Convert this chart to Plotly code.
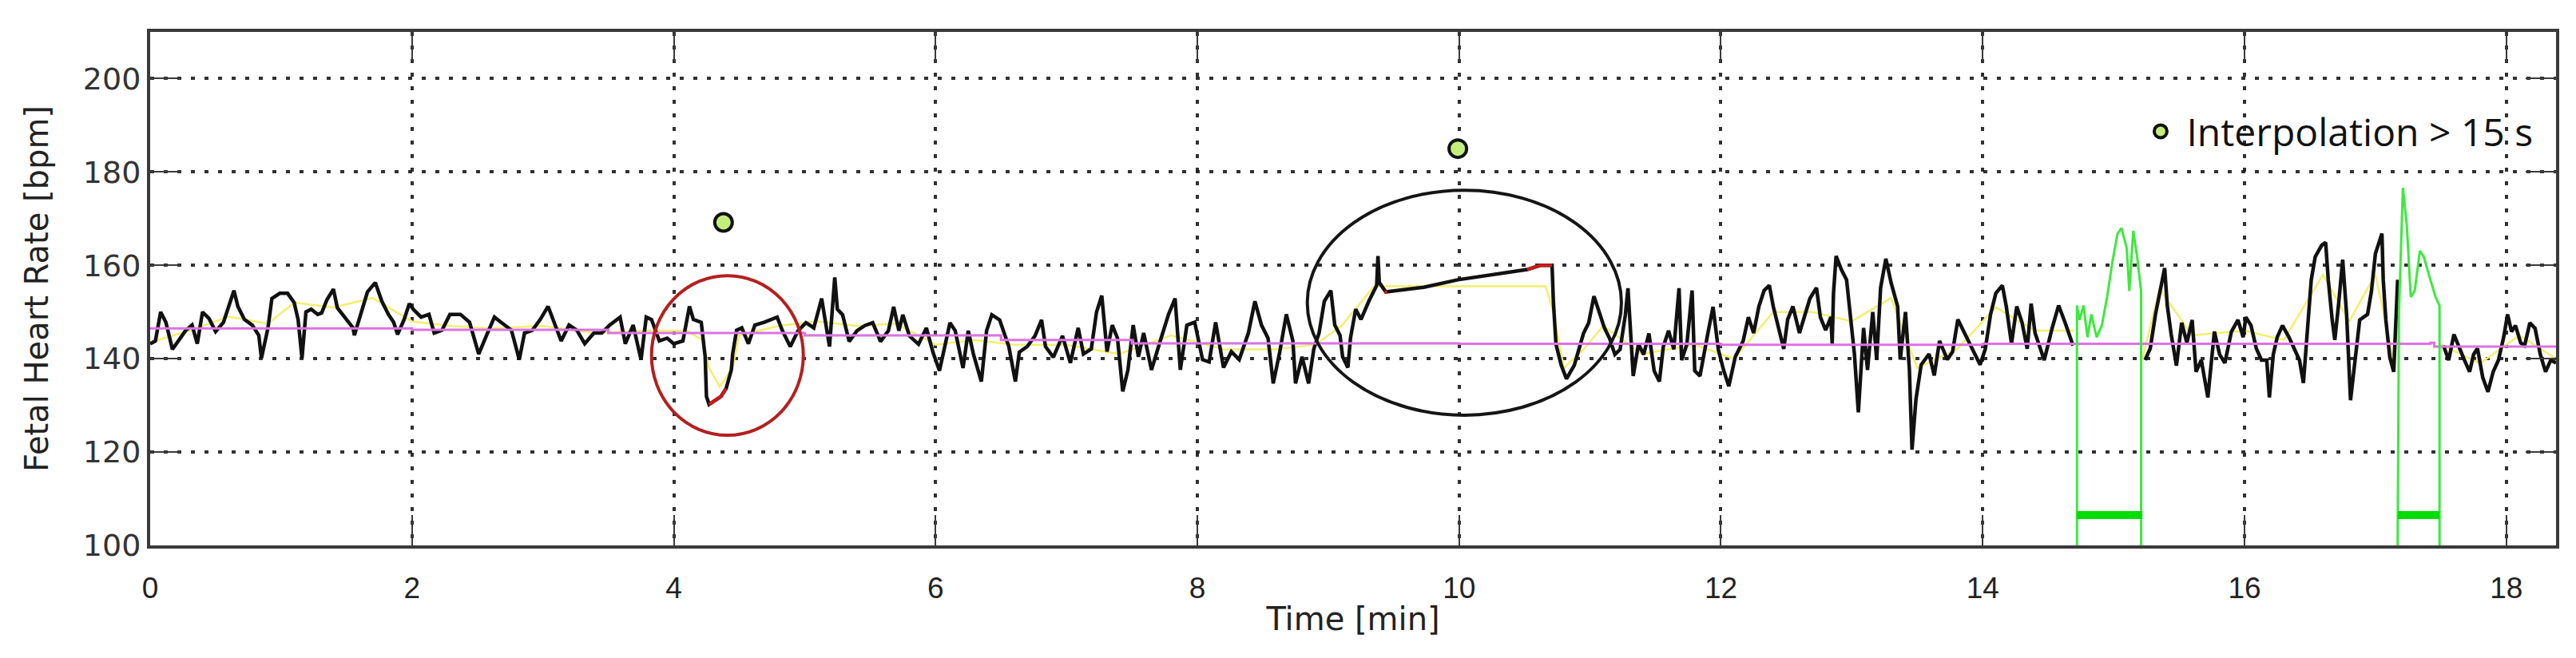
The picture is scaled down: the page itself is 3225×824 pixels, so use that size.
"""Fetal heart rate trace with interpolation markers (Plotly)."""

import plotly.graph_objects as go

# --- data ------------------------------------------------------------------

FHR_TIME = [
    0.00, 0.04, 0.08, 0.12, 0.17, 0.20, 0.27, 0.32, 0.36, 0.40, 0.45, 0.50, 0.56, 0.60, 0.64, 0.67,
    0.72, 0.78, 0.83, 0.85, 0.90, 0.93, 0.99, 1.05, 1.10, 1.13, 1.16, 1.19, 1.23, 1.28, 1.31, 1.35,
    1.40, 1.43, 1.50, 1.55, 1.56, 1.60, 1.66, 1.72, 1.77, 1.82, 1.86, 1.89, 1.94, 1.98, 2.01, 2.07,
    2.13, 2.17, 2.23, 2.29, 2.37, 2.44, 2.51, 2.57, 2.63, 2.68, 2.76, 2.82, 2.86, 2.92, 2.98, 3.04,
    3.10, 3.14, 3.20, 3.26, 3.32, 3.39, 3.45, 3.51, 3.59, 3.63, 3.69, 3.75, 3.79, 3.83, 3.89, 3.95,
    4.00, 4.07, 4.12, 4.15, 4.21, 4.24, 4.25, 4.27, 4.36, 4.40, 4.44, 4.45, 4.48, 4.52, 4.57, 4.62,
    4.69, 4.73, 4.79, 4.83, 4.89, 4.95, 5.01, 5.07, 5.13, 5.16, 5.19, 5.23, 5.25, 5.29, 5.34, 5.40,
    5.46, 5.52, 5.58, 5.64, 5.68, 5.72, 5.75, 5.80, 5.87, 5.93, 5.98, 6.03, 6.07, 6.11, 6.15, 6.21,
    6.25, 6.29, 6.35, 6.39, 6.43, 6.49, 6.56, 6.61, 6.64, 6.70, 6.76, 6.81, 6.84, 6.90, 6.97, 7.03,
    7.09, 7.13, 7.19, 7.23, 7.27, 7.31, 7.35, 7.39, 7.43, 7.47, 7.51, 7.55, 7.59, 7.65, 7.71, 7.78,
    7.83, 7.87, 7.92, 7.98, 8.04, 8.09, 8.14, 8.20, 8.26, 8.32, 8.39, 8.44, 8.49, 8.54, 8.58, 8.63,
    8.68, 8.73, 8.75, 8.80, 8.85, 8.89, 8.93, 8.97, 9.02, 9.05, 9.09, 9.11, 9.15, 9.17, 9.21, 9.25,
    9.31, 9.37, 9.38, 9.39, 9.44, 9.52, 9.73, 9.99, 10.30, 10.52, 10.62, 10.71, 10.72, 10.74, 10.78,
    10.82, 10.88, 10.95, 10.99, 11.03, 11.07, 11.11, 11.15, 11.19, 11.23, 11.27, 11.29, 11.31, 11.33,
    11.37, 11.41, 11.45, 11.49, 11.53, 11.56, 11.60, 11.64, 11.68, 11.70, 11.74, 11.78, 11.80, 11.84,
    11.90, 11.94, 11.98, 12.02, 12.06, 12.11, 12.17, 12.21, 12.25, 12.29, 12.33, 12.37, 12.40, 12.45,
    12.48, 12.51, 12.55, 12.60, 12.64, 12.68, 12.73, 12.76, 12.80, 12.84, 12.85, 12.86, 12.88, 12.92,
    12.96, 12.99, 13.02, 13.05, 13.09, 13.12, 13.16, 13.19, 13.22, 13.26, 13.30, 13.35, 13.37, 13.41,
    13.44, 13.46, 13.49, 13.53, 13.59, 13.63, 13.67, 13.73, 13.77, 13.81, 13.86, 13.92, 13.98, 14.02,
    14.06, 14.10, 14.15, 14.18, 14.22, 14.26, 14.30, 14.34, 14.37, 14.40, 14.44, 14.47, 14.53, 14.58,
    14.63, 14.69, 14.72, 15.24, 15.28, 15.32, 15.36, 15.39, 15.41, 15.44, 15.48, 15.52, 15.56, 15.60,
    15.63, 15.67, 15.72, 15.77, 15.81, 15.85, 15.90, 15.95, 15.99, 16.01, 16.05, 16.09, 16.13, 16.17,
    16.19, 16.22, 16.25, 16.29, 16.34, 16.38, 16.42, 16.45, 16.48, 16.51, 16.54, 16.59, 16.62, 16.64,
    16.67, 16.69, 16.72, 16.75, 16.78, 16.81, 16.84, 16.88, 16.94, 16.97, 17.00, 17.03, 17.05, 17.06,
    17.08, 17.11, 17.14, 17.17, 17.20, 17.52, 17.56, 17.60, 17.64, 17.68, 17.72, 17.75, 17.78, 17.82,
    17.86, 17.90, 17.94, 17.98, 18.01, 18.04, 18.07, 18.11, 18.14, 18.18, 18.22, 18.26, 18.30, 18.34,
    18.38,
]
FHR_BPM = [
    143.2, 143.8, 150.0, 147.8, 142.0, 143.2, 146.0, 147.2, 143.2, 150.0, 148.6, 145.8, 147.8, 151.2, 154.6, 151.2,
    148.4, 147.2, 145.0, 140.1, 146.6, 152.9, 154.0, 154.0, 152.0, 148.4, 140.1, 150.0, 150.6, 149.5, 149.8, 152.6,
    154.9, 150.9, 148.4, 146.6, 145.0, 148.9, 154.3, 156.3, 152.3, 149.5, 147.8, 145.2, 148.4, 151.8, 150.6, 148.9,
    149.5, 145.5, 146.1, 149.5, 149.5, 147.8, 141.0, 145.0, 148.9, 147.8, 146.1, 139.8, 145.5, 146.1, 148.4, 151.2,
    146.6, 143.8, 147.2, 146.1, 143.2, 145.5, 145.5, 147.2, 148.9, 143.2, 147.2, 139.8, 148.9, 148.4, 143.8, 144.4,
    143.2, 143.8, 151.2, 148.4, 147.8, 140.4, 131.9, 130.2, 131.9, 133.6, 137.6, 141.0, 146.1, 146.6, 143.2, 147.2,
    147.8, 148.3, 148.9, 146.0, 142.6, 146.0, 147.7, 146.6, 152.9, 147.7, 142.6, 157.4, 150.6, 149.4, 143.7, 146.0,
    147.1, 147.7, 143.7, 146.0, 151.1, 146.0, 149.4, 144.9, 143.1, 146.6, 141.4, 137.4, 142.6, 147.7, 146.0, 138.0,
    146.0, 140.9, 135.1, 146.0, 149.4, 148.3, 142.6, 135.1, 141.4, 142.6, 144.9, 148.3, 142.6, 140.3, 144.9, 139.1,
    146.6, 141.0, 142.1, 150.0, 153.5, 141.5, 147.2, 144.4, 133.0, 137.6, 147.2, 140.4, 145.5, 137.6, 143.2, 149.5,
    152.9, 137.6, 147.2, 147.8, 139.8, 139.3, 147.8, 138.1, 141.5, 139.8, 145.5, 152.3, 147.2, 144.4, 134.7, 141.5,
    149.5, 143.8, 134.7, 140.4, 134.7, 142.1, 145.5, 152.3, 154.6, 147.2, 145.0, 140.4, 138.1, 144.4, 150.6, 148.4,
    152.3, 155.7, 162.0, 156.3, 154.3, 154.6, 155.3, 156.9, 158.3, 159.1, 160.0, 160.0, 152.3, 143.1, 138.6,
    135.7, 138.6, 145.4, 147.7, 153.4, 150.0, 146.6, 144.3, 140.9, 142.0, 149.4, 155.1, 146.6, 136.3,
    143.1, 140.9, 145.4, 137.4, 135.1, 142.6, 146.0, 142.0, 155.1, 139.7, 143.1, 154.6, 137.4, 136.3,
    145.4, 151.1, 142.0, 137.6, 134.1, 140.4, 143.8, 148.9, 145.5, 151.2, 154.6, 155.7, 151.2, 145.5,
    142.1, 148.4, 151.2, 145.5, 148.9, 152.9, 155.2, 148.9, 146.1, 148.9, 143.2, 154.0, 162.0, 159.1,
    156.9, 148.4, 141.0, 128.5, 146.6, 137.6, 150.0, 139.8, 155.2, 161.4, 156.3, 151.2, 139.8, 150.0,
    137.6, 120.5, 131.3, 138.7, 141.0, 136.4, 143.8, 139.8, 141.5, 148.4, 145.5, 142.1, 138.7, 142.1,
    149.5, 154.0, 155.7, 151.2, 143.2, 151.2, 147.8, 142.1, 151.8, 145.5, 142.1, 139.7, 146.5, 151.4,
    147.7, 142.8, None, 139.7, 142.2, 149.5, 155.7, 159.4, 151.4, 145.2, 138.5, 147.7, 143.4, 148.3,
    137.2, 139.7, 131.7, 145.8, 140.9, 139.1, 145.8, 148.3, 144.6, 148.9, 147.1, 142.2, 139.7, 139.7,
    131.7, 140.9, 144.6, 147.1, 144.6, 142.2, 139.7, 134.8, 147.1, 156.9, 161.8, 164.3, 164.9, 156.9,
    148.3, 144.0, 152.0, 161.2, 149.5, 131.1, 138.5, 148.3, 149.5, 154.5, 162.5, 165.5, 166.8, 156.9,
    148.3, 140.3, 137.2, 156.9, None, 142.8, 139.7, 145.2, 142.2, 139.7, 137.2, 140.9, 142.2, 136.0,
    132.9, 137.2, 139.7, 144.6, 149.5, 145.8, 147.1, 143.4, 142.8, 147.7, 146.5, 140.9, 137.2, 139.7,
    139.1,
]

# smoothed trace (yellow), mostly hidden under the raw trace
SMOOTH_TIME = [
    0.0, 0.3, 0.6, 0.9, 1.1, 1.4, 1.7, 2.0, 2.3, 2.6, 3.0, 3.4, 3.8, 4.1, 4.22, 4.27, 4.35, 4.45, 4.5,
    4.8, 5.1, 5.4, 5.7, 6.0, 6.3, 6.6, 7.0, 7.4, 7.8, 8.2, 8.6, 8.9, 9.1, 9.35, 10.66, 10.72, 10.8,
    10.95, 11.1, 11.4, 11.8, 12.1, 12.4, 12.7, 13.0, 13.3, 13.5, 13.8, 14.1, 14.4, 14.7, 14.72,
    15.22, 15.35, 15.6, 16.0, 16.3, 16.6, 16.8, 17.0, 17.1, 17.14, 17.17, 17.2, 17.5, 17.8, 18.1, 18.38,
]
SMOOTH_BPM = [
    143.5, 146.0, 149.0, 147.5, 152.0, 151.0, 153.0, 148.0, 147.0, 146.5, 147.0, 145.5, 146.0, 146.0, 144.0, 138.0, 134.0, 138.0, 145.0,
    147.0, 148.0, 147.0, 147.5, 143.0, 144.0, 143.0, 143.0, 141.0, 145.0, 142.0, 142.0, 143.0, 147.0, 155.5, 155.5, 150.0, 138.0,
    142.0, 147.0, 141.0, 143.0, 140.0, 150.0, 150.0, 148.0, 153.0, 138.0, 142.0, 151.0, 146.0, 146.0, None,
    140.0, 155.0, 145.0, 146.0, 144.0, 158.0, 148.0, 158.0, 145.0, 139.0, 157.0, None, 143.0, 139.0, 145.0, 140.0,
]

# floating baseline (magenta)
BASELINE_TIME = [0.0, 2.0, 3.5, 5.0, 6.5, 7.5, 10.0, 12.0, 14.0, 16.0, 17.42, 17.45, 18.38]
BASELINE_BPM = [146.5, 146.2, 145.5, 145.0, 144.0, 143.3, 143.2, 143.0, 143.2, 143.2, 143.4, 142.6, 142.6]

# interpolated stretches drawn in red
INTERP_TIME = [4.27, 4.36, 4.40, None, 9.43, 9.45, None, 10.52, 10.62, 10.71]
INTERP_BPM = [130.2, 131.9, 133.6, None, 154.3, 154.3, None, 159.1, 160.0, 160.0]

# green segments (signal from the second channel) and their duration bars
GREEN_TIME = [
    14.72, 14.72, 14.74, 14.77, 14.80, 14.83, 14.87, 14.91, 14.95, 14.99, 15.03, 15.06, 15.10, 15.12,
    15.15, 15.18, 15.21, 15.21, None,
    17.17, 17.18, 17.21, 17.24, 17.27, 17.30, 17.34, 17.37, 17.42, 17.46, 17.49, 17.49,
]
GREEN_BPM = [
    100.0, 151.4, 148.3, 151.4, 144.6, 149.5, 144.6, 147.1, 153.2, 160.6, 166.8, 168.0, 163.7, 154.5,
    167.4, 161.8, 154.5, 100.0, None,
    100.0, 150.0, 176.6, 168.6, 153.2, 154.5, 163.1, 161.8, 156.9, 153.2, 151.4, 100.0,
]
GAP_BAR_TIME = [14.72, 15.22, None, 17.17, 17.49]
GAP_BAR_BPM = [106.5, 106.5, None, 106.5, 106.5]

# interpolation > 15 s markers
LONG_INTERP_TIME = [4.38, 9.99]
LONG_INTERP_BPM = [169.2, 185.0]

# highlighted regions: (x0, x1, y0, y1, colour)
HIGHLIGHTS = [
    (3.83, 4.99, 123.6, 157.8, "#b3201f"),
    (8.84, 11.24, 127.9, 176.1, "#151515"),
]

X_TICKS = [0, 2, 4, 6, 8, 10, 12, 14, 16, 18]
Y_TICKS = [100, 120, 140, 160, 180, 200]
X_RANGE = [0, 18.38]
Y_RANGE = [100, 210]

GRID_COLOR = "rgba(25,25,25,0.9)"
AXIS_COLOR = "#3a3a3a"
NARROW = "Liberation Sans Narrow, Arial Narrow, Liberation Sans"


def build_figure() -> go.Figure:
    fig = go.Figure()

    # yellow smoothed line sits under the raw trace
    fig.add_trace(go.Scatter(
        x=SMOOTH_TIME, y=SMOOTH_BPM, mode="lines",
        line=dict(color="#f0f06e", width=2.5), showlegend=False, hoverinfo="skip",
    ))
    fig.add_trace(go.Scatter(
        x=FHR_TIME, y=FHR_BPM, mode="lines",
        line=dict(color="#111111", width=4.5), showlegend=False, hoverinfo="skip",
    ))
    fig.add_trace(go.Scatter(
        x=BASELINE_TIME, y=BASELINE_BPM, mode="lines", line_shape="hv",
        line=dict(color="#dc72e4", width=3), showlegend=False, hoverinfo="skip",
    ))
    fig.add_trace(go.Scatter(
        x=INTERP_TIME, y=INTERP_BPM, mode="lines",
        line=dict(color="#d01818", width=4), showlegend=False, hoverinfo="skip",
    ))
    fig.add_trace(go.Scatter(
        x=GREEN_TIME, y=GREEN_BPM, mode="lines",
        line=dict(color="#3fe83f", width=3), showlegend=False, hoverinfo="skip",
    ))
    fig.add_trace(go.Scatter(
        x=GAP_BAR_TIME, y=GAP_BAR_BPM, mode="lines",
        line=dict(color="#00dd00", width=10), showlegend=False, hoverinfo="skip",
    ))
    fig.add_trace(go.Scatter(
        x=LONG_INTERP_TIME, y=LONG_INTERP_BPM, mode="markers",
        name="\u00a0Interpolation > 15 s",
        marker=dict(size=22, color="#c4ee7c", line=dict(color="#111111", width=4)),
    ))

    for x0, x1, y0, y1, colour in HIGHLIGHTS:
        fig.add_shape(
            type="circle", xref="x", yref="y", x0=x0, x1=x1, y0=y0, y1=y1,
            line=dict(color=colour, width=4),
        )

    axis_common = dict(
        showgrid=True,
        gridcolor=GRID_COLOR,
        gridwidth=4,
        griddash="5px,12px",
        showline=True,
        linecolor=AXIS_COLOR,
        linewidth=4,
        mirror="ticks",
        ticks="inside",
        ticklen=38,
        tickwidth=2,
        tickcolor=AXIS_COLOR,
        zeroline=False,
    )

    fig.update_xaxes(
        **axis_common,
        range=X_RANGE,
        tickvals=X_TICKS,
        ticktext=[str(v) for v in X_TICKS],
        ticklabelstandoff=18,
        tickfont=dict(family=NARROW, size=37, color="#222"),
        title=dict(
            text="Time [min]",
            standoff=6,
            font=dict(family="DejaVu Sans", size=40, color="#222"),
        ),
    )
    fig.update_yaxes(
        **axis_common,
        range=Y_RANGE,
        tickvals=Y_TICKS,
        ticktext=[str(v) for v in Y_TICKS],
        ticklabelstandoff=0,
        tickfont=dict(family="DejaVu Sans", size=38, color="#333"),
        title=dict(
            text="Fetal Heart Rate [bpm]",
            standoff=32,
            font=dict(family="DejaVu Sans", size=40, color="#222"),
        ),
    )

    fig.update_layout(
        width=3225,
        height=824,
        margin=dict(l=188, r=25, t=40, b=141),
        paper_bgcolor="white",
        plot_bgcolor="white",
        showlegend=True,
        legend=dict(
            x=0.829, y=0.806, xanchor="left", yanchor="middle",
            bgcolor="rgba(0,0,0,0)",
            font=dict(family="Open Sans", size=48, color="#111"),
        ),
    )
    return fig


fig = build_figure()
fig.write_html(
    "out.html",
    config={"displayModeBar": False},
    post_script="document.body.style.margin='0';",
)
